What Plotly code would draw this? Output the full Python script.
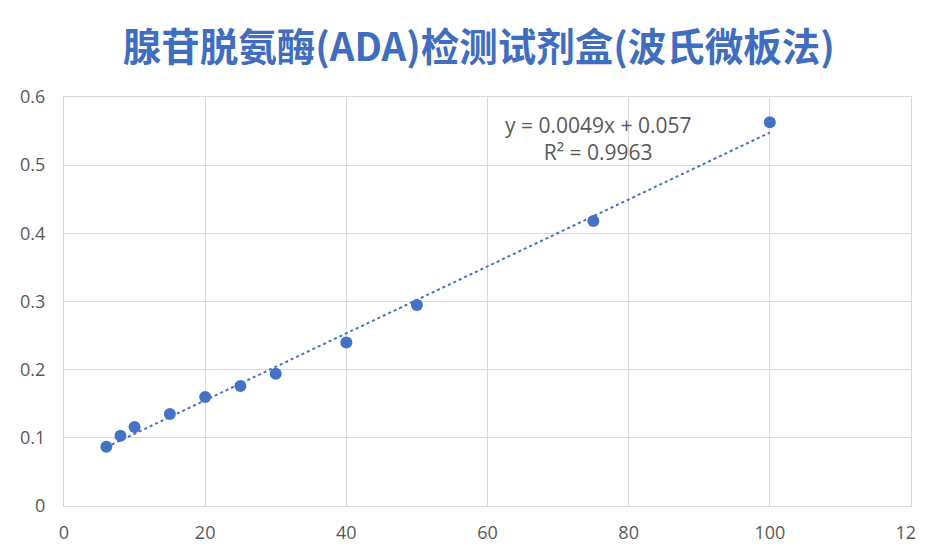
import numpy as np
import plotly.graph_objects as go

# Data
concentration = [6, 8, 10, 15, 20, 25, 30, 40, 50, 75, 100]
absorbance = [0.087, 0.103, 0.116, 0.135, 0.160, 0.176, 0.194, 0.240, 0.295, 0.418, 0.563]
x_ticks = [0, 20, 40, 60, 80, 100, 120]
y_ticks = [0, 0.1, 0.2, 0.3, 0.4, 0.5, 0.6]
y_tick_labels = ["0", "0.1", "0.2", "0.3", "0.4", "0.5", "0.6"]
title_text = "腺苷脱氨酶(ADA)检测试剂盒(波氏微板法)"
eq_text = "y = 0.0049x + 0.057"
r2_text = "R² = 0.9963"

blue = "#4472C4"
grey_text = "#595959"
grid = "#D9D9D9"
tick_font = "Open Sans, DejaVu Sans, sans-serif"

# Linear trendline (least squares over the data)
slope, intercept = np.polyfit(concentration, absorbance, 1)
trend_x = [min(concentration), max(concentration)]
trend_y = [slope * v + intercept for v in trend_x]

fig = go.Figure()
fig.add_trace(go.Scatter(x=trend_x, y=trend_y, mode="lines",
                         line=dict(color=blue, width=2, dash="dot"),
                         hoverinfo="skip", showlegend=False))
fig.add_trace(go.Scatter(x=concentration, y=absorbance, mode="markers",
                         marker=dict(color=blue, size=12),
                         showlegend=False))

fig.update_layout(
    width=925, height=551,
    margin=dict(l=56, r=22, t=89, b=53),
    paper_bgcolor="white", plot_bgcolor="white",
    font=dict(family=tick_font, color=grey_text, size=18),
    title=dict(text="<b>" + title_text + "</b>", x=0.509, xanchor="center",
               y=0.929, yanchor="middle",
               font=dict(family="Noto Sans CJK SC", size=38.5, color="#3F6DBF")),
    xaxis=dict(range=[0, 120], tickvals=x_ticks, showgrid=True, gridcolor=grid,
               gridwidth=1, zeroline=False, showline=True, linecolor=grid,
               mirror=True, ticks="", automargin=False,
               tickfont=dict(size=18, color=grey_text, family=tick_font),
               ticklabelstandoff=10),
    yaxis=dict(range=[0, 0.6], tickvals=y_ticks, ticktext=y_tick_labels,
               showgrid=True, gridcolor=grid, gridwidth=1, zeroline=False,
               showline=True, linecolor=grid, mirror=True, ticks="",
               automargin=False,
               tickfont=dict(size=18, color=grey_text, family=tick_font),
               ticklabelstandoff=14),
    annotations=[
        dict(x=75.6, y=0.539, xref="x", yref="y", text=eq_text + "<br>" + r2_text,
             showarrow=False, xanchor="center", yanchor="middle", align="center",
             font=dict(size=21, color=grey_text, family=tick_font)),
    ],
)

fig.write_html("out.html")
